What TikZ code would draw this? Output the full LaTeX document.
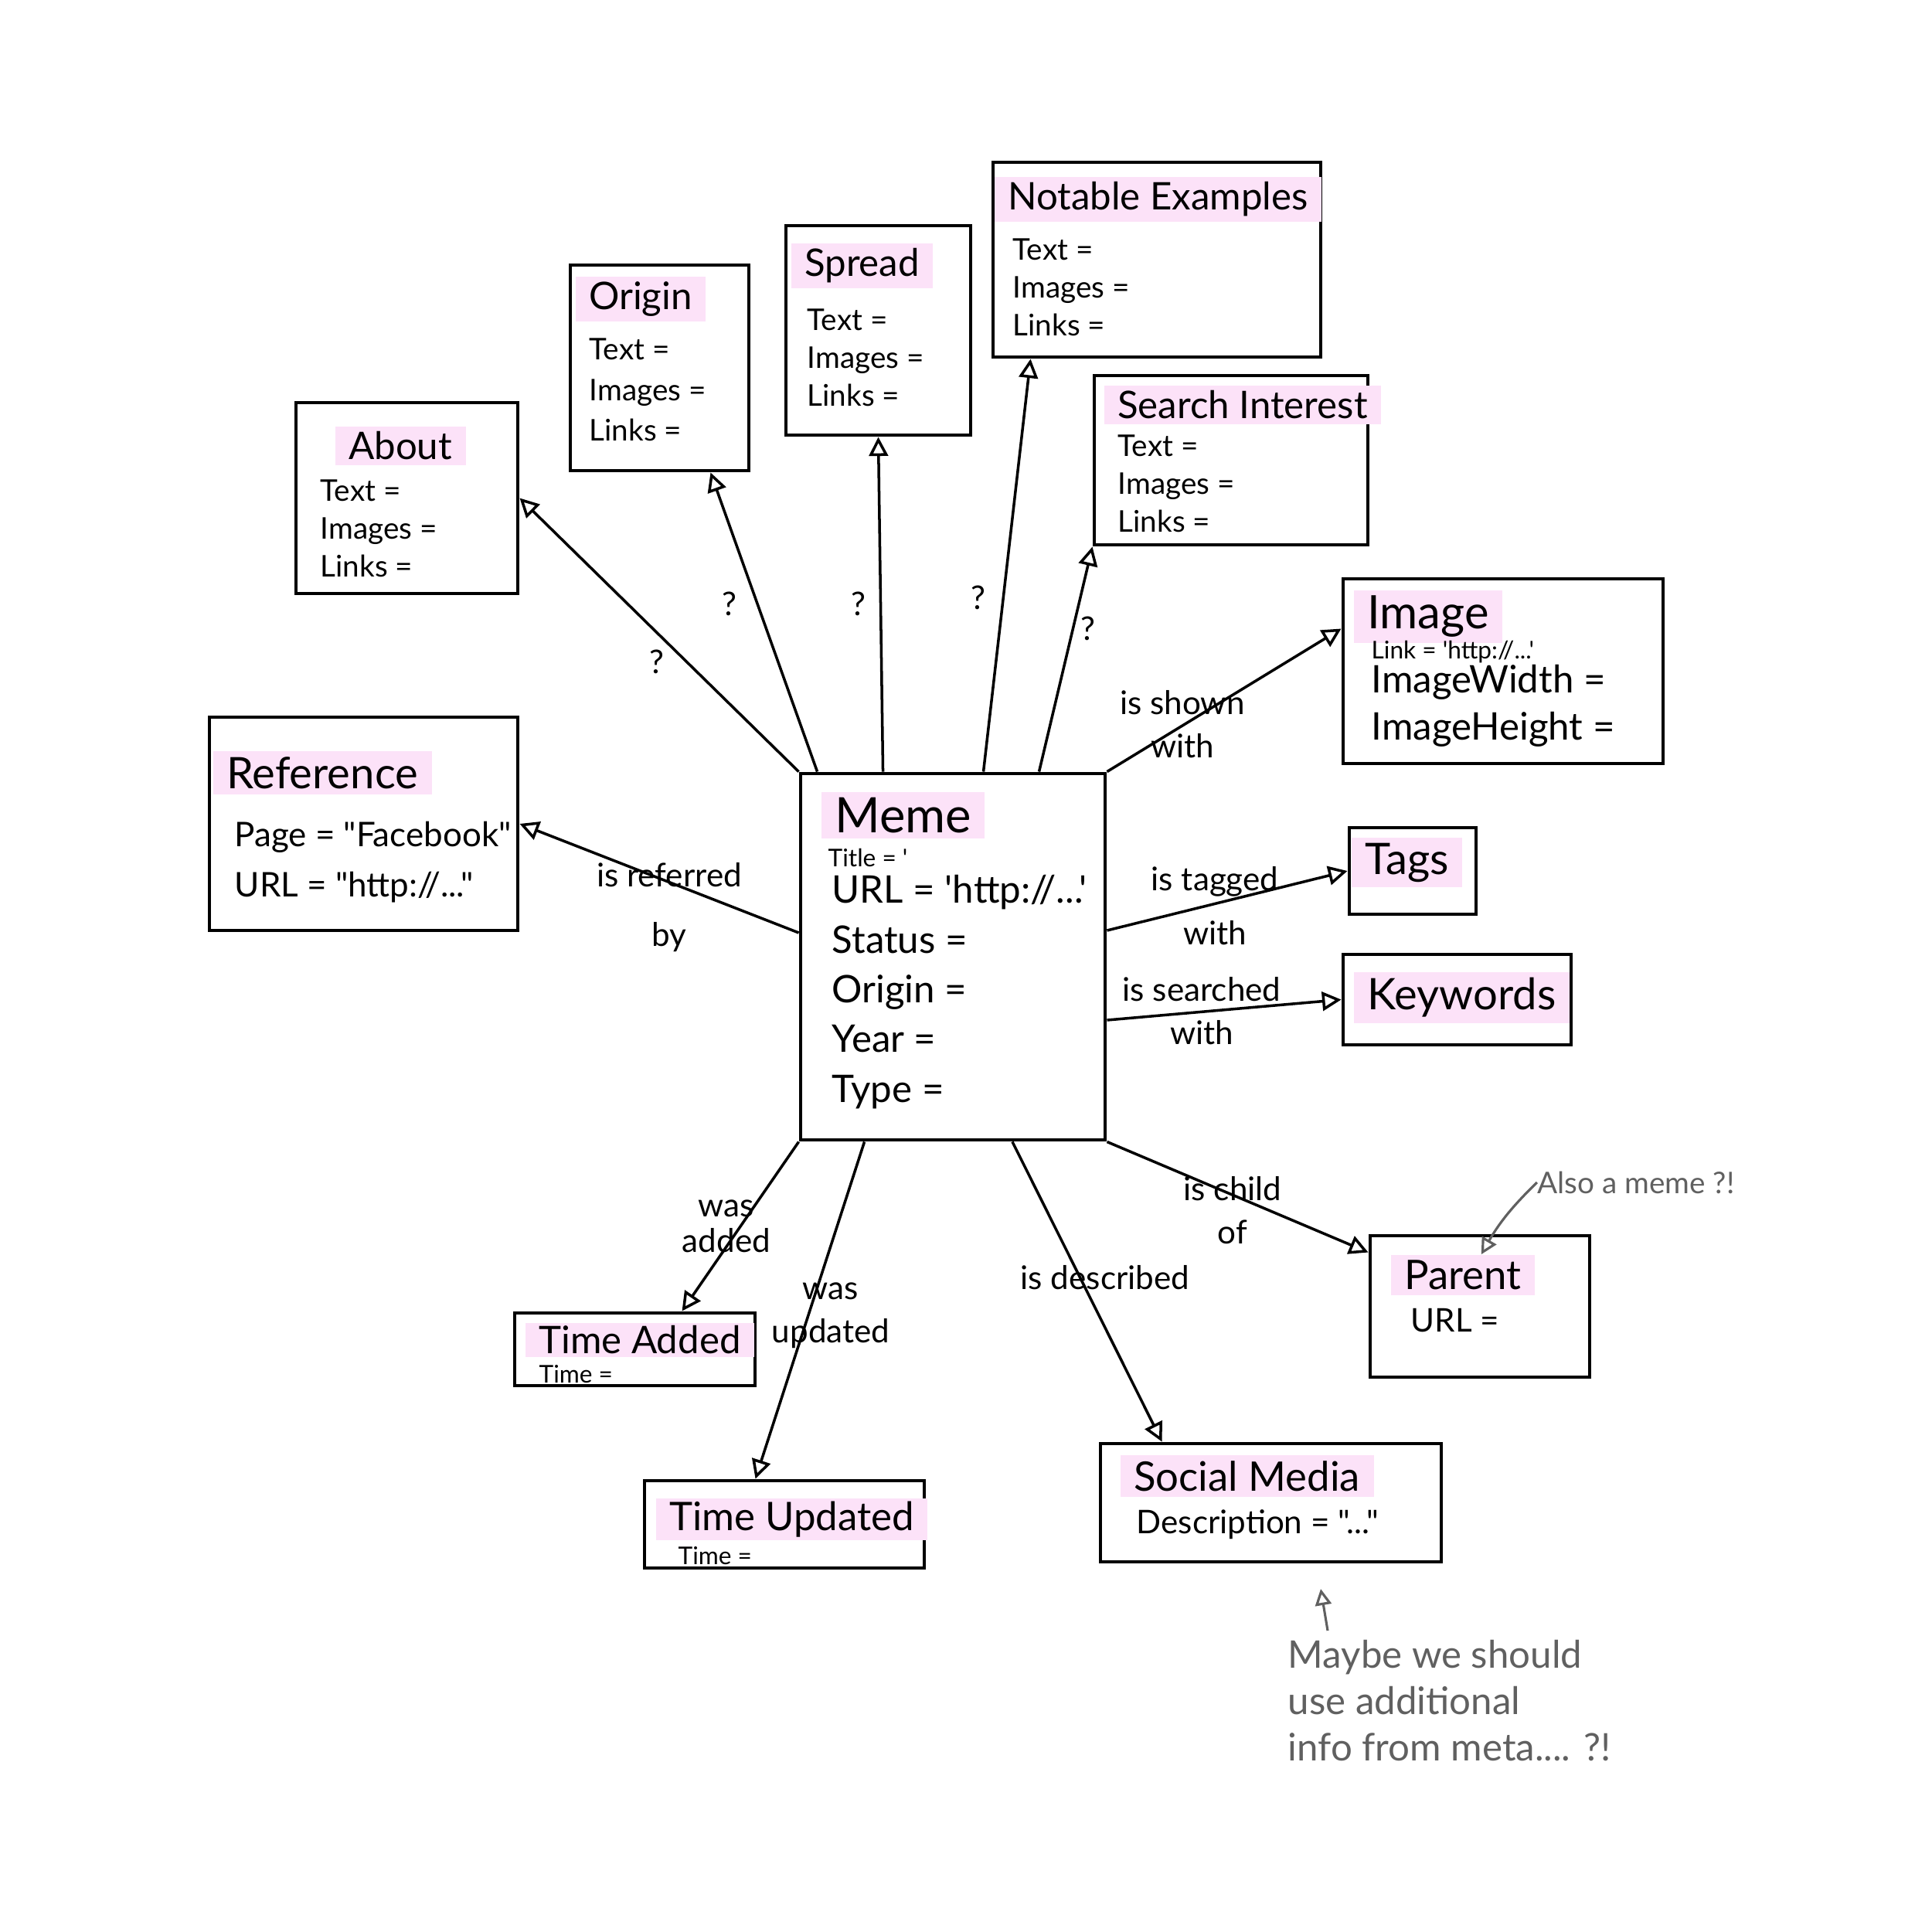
\documentclass[tikz,border=0pt]{standalone}
\usepackage{fontspec}
\setmainfont{Lato}[Ligatures=TeXOff]
\usepackage{tikz}
\usetikzlibrary{arrows.meta,calc}
\definecolor{hilite}{RGB}{252,226,248}
\definecolor{notegray}{RGB}{96,96,96}
\tikzset{
  box/.style={draw=black, line width=1.4pt, inner sep=0pt},
  ttl/.style={fill=hilite, inner xsep=5pt, inner ysep=2pt, anchor=west, font=\fontsize{14}{16}\selectfont},
  attr/.style={align=left, inner sep=0pt, anchor=north west, font=\fontsize{11}{14}\selectfont},
  smallattr/.style={inner sep=0pt, anchor=west, font=\fontsize{9}{10}\selectfont},
  rel/.style={-{Triangle[open, length=7pt, width=7pt]}, line width=1pt},
  lbl/.style={align=center, inner sep=0pt, font=\fontsize{12}{16}\selectfont},
  qmark/.style={inner sep=0pt, font=\fontsize{12}{14}\selectfont},
  note/.style={text=notegray, align=left, inner sep=0pt},
  notearrow/.style={-{Triangle[open, length=6pt, width=6pt]}, draw=notegray, line width=0.9pt}
}
\begin{document}
\begin{tikzpicture}
  \useasboundingbox (0,0) rectangle (25,-25);
  % the meme itself
  \node[box, minimum width=3.94cm, minimum height=4.74cm] (meme) at (12.33,-12.38) {};
  \node[ttl, font=\fontsize{18}{20}\selectfont] (memeT) at (10.62,-10.55) {Meme};
  \node[smallattr] (memeS) at (10.71,-11.10) {Title = '};
  \node[attr, font=\fontsize{14}{18.3}\selectfont] (memeA) at (10.76,-11.32)
    {URL = 'http://...'\\Status =\\Origin =\\Year =\\Type =};
  % text sections
  \node[box, minimum width=2.87cm, minimum height=2.47cm] (about) at (5.265,-6.445) {};
  \node[ttl] (aboutT) at (4.33,-5.77) {About};
  \node[attr] (aboutA) at (4.14,-6.20) {Text =\\Images =\\Links =};
  \node[box, minimum width=2.31cm, minimum height=2.66cm] (origin) at (8.535,-4.76) {};
  \node[ttl] (originT) at (7.44,-3.87) {Origin};
  \node[attr, font=\fontsize{11}{15}\selectfont] (originA) at (7.62,-4.37) {Text =\\Images =\\Links =};
  \node[box, minimum width=2.39cm, minimum height=2.71cm] (spread) at (11.365,-4.275) {};
  \node[ttl] (spreadT) at (10.23,-3.44) {Spread};
  \node[attr] (spreadA) at (10.44,-3.99) {Text =\\Images =\\Links =};
  \node[box, minimum width=4.24cm, minimum height=2.52cm] (notable) at (14.97,-3.36) {};
  \node[ttl] (notableT) at (12.86,-2.58) {Notable Examples};
  \node[attr] (notableA) at (13.10,-3.08) {Text =\\Images =\\Links =};
  \node[box, minimum width=3.54cm, minimum height=2.19cm] (search) at (15.93,-5.955) {};
  \node[ttl] (searchT) at (14.28,-5.24) {Search Interest};
  \node[attr] (searchA) at (14.46,-5.62) {Text =\\Images =\\Links =};
  % other entities
  \node[box, minimum width=4.14cm, minimum height=2.39cm] (image) at (19.45,-8.685) {};
  \node[ttl, font=\fontsize{17}{19}\selectfont] (imageT) at (17.51,-7.98) {Image};
  \node[smallattr] (imageS) at (17.74,-8.44) {Link = 'http://...'};
  \node[attr, font=\fontsize{14}{17.3}\selectfont] (imageA) at (17.74,-8.60) {ImageWidth =\\ImageHeight =};
  \node[box, minimum width=3.99cm, minimum height=2.76cm] (reference) at (4.705,-10.66) {};
  \node[ttl, font=\fontsize{16}{18}\selectfont] (referenceT) at (2.75,-10.0) {Reference};
  \node[attr, font=\fontsize{12.5}{18.7}\selectfont] (referenceA) at (3.03,-10.62)
    {Page = "Facebook"\\URL = "http://..."};
  \node[box, minimum width=1.64cm, minimum height=1.12cm] (tags) at (18.28,-11.27) {};
  \node[ttl, font=\fontsize{16}{18}\selectfont] (tagsT) at (17.48,-11.16) {Tags};
  \node[box, minimum width=2.95cm, minimum height=1.17cm] (keywords) at (18.855,-12.935) {};
  \node[ttl, font=\fontsize{16}{18}\selectfont] (keywordsT) at (17.51,-12.91) {Keywords};
  \node[box, minimum width=2.84cm, minimum height=1.83cm] (parent) at (19.15,-16.905) {};
  \node[ttl, font=\fontsize{15}{17}\selectfont] (parentT) at (17.99,-16.50) {Parent};
  \node[smallattr, font=\fontsize{12}{14}\selectfont] (parentA) at (18.25,-17.09) {URL =};
  \node[box, minimum width=3.11cm, minimum height=0.94cm] (added) at (8.215,-17.46) {};
  \node[ttl, inner ysep=1pt] (addedT) at (6.79,-17.34) {Time Added};
  \node[smallattr] (addedA) at (6.97,-17.78) {Time =};
  \node[box, minimum width=3.62cm, minimum height=1.13cm] (updated) at (10.15,-19.725) {};
  \node[ttl, inner ysep=1pt, font=\fontsize{14.5}{17}\selectfont] (updatedT) at (8.48,-19.66) {Time Updated};
  \node[smallattr] (updatedA) at (8.77,-20.13) {Time =};
  \node[box, minimum width=4.41cm, minimum height=1.53cm] (social) at (16.445,-19.445) {};
  \node[ttl, font=\fontsize{15}{17}\selectfont] (socialT) at (14.49,-19.10) {Social Media};
  \node[smallattr, font=\fontsize{12}{14}\selectfont] (socialA) at (14.70,-19.73) {Description = "..."};
  % relations
  \draw[rel] (meme.north west) -- (about.east);
  \draw[rel] ([xshift=0.24cm]meme.north west) -- ([xshift=-0.52cm]origin.south east);
  \draw[rel] ([xshift=1.09cm]meme.north west) -- (spread.south);
  \draw[rel] ([xshift=2.39cm]meme.north west) -- ([xshift=0.51cm]notable.south west);
  \draw[rel] ([xshift=3.11cm]meme.north west) -- (search.south west);
  \draw[rel] (meme.north east) -- ([yshift=0.55cm]image.west);
  \draw[rel] ([yshift=0.31cm]meme.west) -- (reference.east);
  \draw[rel] ([yshift=0.34cm]meme.east) -- (tags.west);
  \draw[rel] ([yshift=-0.82cm]meme.east) -- (keywords.west);
  \draw[rel] (meme.south east) -- ([yshift=-0.24cm]parent.north west);
  \draw[rel] ([xshift=0.77cm]meme.south) -- ([xshift=0.82cm]social.north west);
  \draw[rel] ([xshift=0.85cm]meme.south west) -- ([xshift=1.46cm]updated.north west);
  \draw[rel] (meme.south west) -- ([xshift=2.19cm]added.north west);
  \node[qmark] (qAbout) at (8.50,-8.56) {?};
  \node[qmark] (qOrigin) at (9.44,-7.81) {?};
  \node[qmark] (qSpread) at (11.11,-7.81) {?};
  \node[qmark] (qNotable) at (12.66,-7.73) {?};
  \node[qmark] (qSearch) at (14.08,-8.13) {?};
  \node[lbl] (lShown) at (15.30,-9.37) {is shown\\with};
  \node[lbl, font=\fontsize{12}{22}\selectfont] (lRef) at (8.66,-11.74) {is referred\\by};
  \node[lbl, font=\fontsize{12}{20}\selectfont] (lTags) at (15.72,-11.72) {is tagged\\with};
  \node[lbl] (lKeys) at (15.55,-13.08) {is searched\\with};
  \node[lbl] (lParent) at (15.95,-15.66) {is child\\of};
  \node[lbl] (lSocial) at (14.30,-16.53) {is described};
  \node[lbl] (lUpdated) at (10.75,-17.02) {was\\updated};
  \node[lbl, font=\fontsize{12}{13}\selectfont] (lAdded) at (9.40,-15.87) {was\\added};
  % notes
  \node[note, font=\fontsize{11}{13}\selectfont] (alsoNote) at (21.17,-15.30) {Also a meme ?!};
  \draw[notearrow] (alsoNote.west) to[bend right=8] ([xshift=0.24cm]parentT.north);
  \node[note, anchor=north west, font=\fontsize{14}{17}\selectfont] (maybeNote) at (16.66,-21.22)
    {Maybe we should\\use additional\\info from meta.... ?!};
  \coordinate (maybeEnd) at (17.09,-20.56);
  \draw[notearrow] ([xshift=0.52cm,yshift=0.12cm]maybeNote.north west) -- (maybeEnd);
\end{tikzpicture}
\end{document}
